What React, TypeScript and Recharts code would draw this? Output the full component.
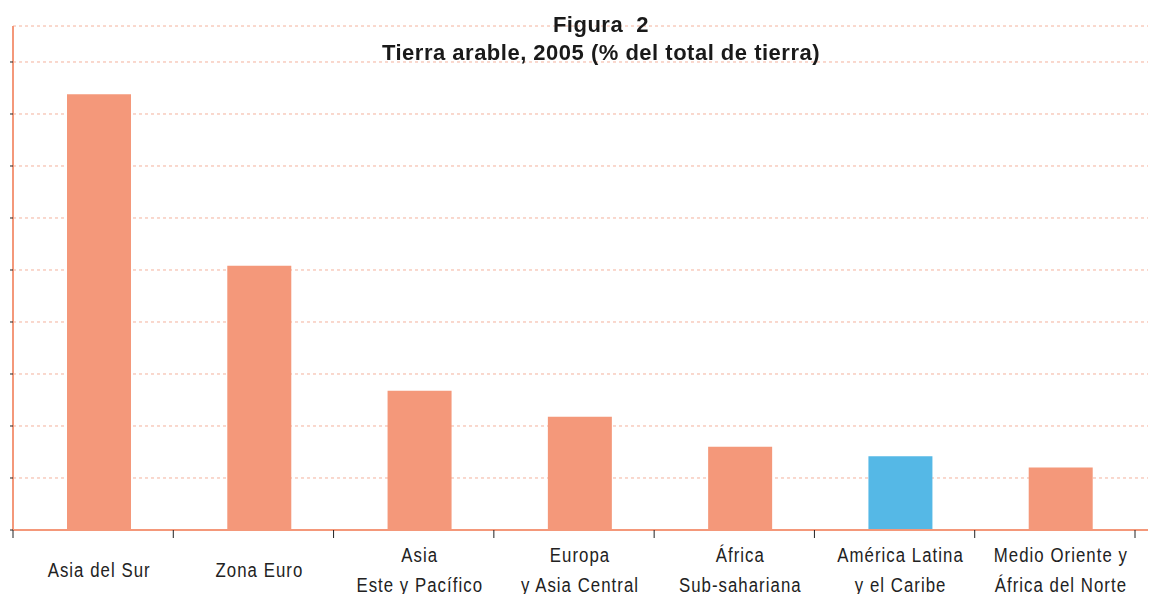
import React from 'react';
import { BarChart, Bar, XAxis, YAxis, CartesianGrid, Cell, Rectangle } from 'recharts';

const regions = [
  'Asia del Sur',
  'Zona Euro',
  'Asia|Este y Pacífico',
  'Europa|y Asia Central',
  'África|Sub-sahariana',
  'América Latina|y el Caribe',
  'Medio Oriente y|África del Norte',
];
const arableShare = [41.9, 25.4, 13.4, 10.9, 8.0, 7.1, 6.0];
const highlighted = 'América Latina|y el Caribe';
const yTicks = [0, 5, 10, 15, 20, 25, 30, 35, 40, 45];

const SALMON = '#f4987a';
const BLUE = '#55b8e6';
const W = 1149;
const H = 594;
const SHIFT = 6;

const data = regions.map((r, i) => ({ region: r, value: arableShare[i] }));

const BAND = (W - 13 - 1 - 13) / regions.length;

// the source font is a condensed sans, so squeeze Liberation Sans horizontally
const RegionTick = (props: any) => {
  const { x, y, payload, index } = props;
  const lines = String(payload.value).split('|');
  const left = x - BAND / 2;
  return (
    <g>
      <line x1={left} x2={left} y1={y} y2={y + 8} stroke="#222" strokeWidth={1} />
      {index === regions.length - 1 && (
        <line x1={x + BAND / 2} x2={x + BAND / 2} y1={y} y2={y + 8} stroke="#222" strokeWidth={1} />
      )}
      {lines.map((t, i) => (
        <g
          key={i}
          transform={`translate(${x + SHIFT},${lines.length === 1 ? y + 47 : y + 32 + i * 30}) scale(0.8,1)`}
        >
          <text
            x={0}
            y={0}
            textAnchor="middle"
            fill="#222"
            fontSize={21}
            letterSpacing={1.3}
            fontFamily='"Liberation Sans", Arial, sans-serif'
          >
            {t}
          </text>
        </g>
      ))}
    </g>
  );
};

const ShiftedBar = (props: any) => <Rectangle {...props} x={props.x + SHIFT} />;

export default function App() {
  return (
    <div style={{ position: 'fixed', left: 0, top: 0, width: W, height: H, background: '#fff' }}>
      <div
        style={{
          position: 'absolute',
          left: 0,
          top: 11,
          width: 1202,
          textAlign: 'center',
          fontFamily: '"Liberation Sans", Arial, sans-serif',
          fontWeight: 'bold',
          fontSize: 22,
          letterSpacing: 0.5,
          lineHeight: '28px',
          color: '#1a1a1a',
          zIndex: 2,
          pointerEvents: 'none',
        }}
      >
        <div style={{ whiteSpace: 'pre' }}>Figura  2</div>
        <div>Tierra arable, 2005 (% del total de tierra)</div>
      </div>
      <BarChart width={W} height={H} data={data} margin={{ top: 26, right: 1, left: 0, bottom: 0 }}>
        <CartesianGrid vertical={false} stroke="#f4b29c" strokeDasharray="3 3" />
        <XAxis
          dataKey="region"
          interval={0}
          padding={{ left: 0, right: 13 }}
          axisLine={{ stroke: SALMON, strokeWidth: 2 }}
          tickLine={false}
          tickSize={0}
          tickMargin={0}
          height={64}
          tick={<RegionTick />}
        />
        <YAxis
          width={13}
          domain={[0, 48.46]}
          ticks={yTicks}
          interval={0}
          axisLine={{ stroke: SALMON, strokeWidth: 2 }}
          tickLine={{ stroke: '#222', strokeWidth: 1 }}
          tickSize={3}
          tick={() => <g />}
        />
        <Bar dataKey="value" barSize={64} isAnimationActive={false} shape={<ShiftedBar />}>
          {data.map((d) => (
            <Cell key={d.region} fill={d.region === highlighted ? BLUE : SALMON} />
          ))}
        </Bar>
      </BarChart>
    </div>
  );
}
